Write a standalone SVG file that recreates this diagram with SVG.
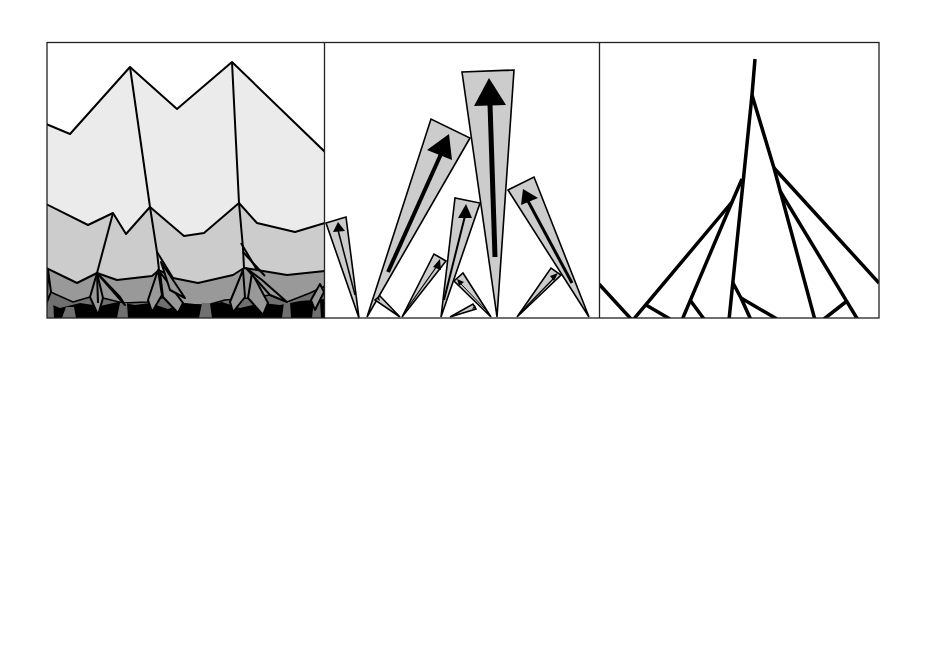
<svg xmlns="http://www.w3.org/2000/svg" width="926" height="655" viewBox="0 0 926 655">
<style>
.ln{fill:none;stroke:#000;stroke-width:2;stroke-linejoin:round}
.l1{fill:#ebebeb;stroke:#000;stroke-width:2;stroke-linejoin:round}
.l2{fill:#cccccc;stroke:#000;stroke-width:2;stroke-linejoin:round}
.l3{fill:#999999;stroke:#000;stroke-width:2;stroke-linejoin:round}
.l4{fill:#707070;stroke:#000;stroke-width:1.5;stroke-linejoin:round}
.bk{fill:#000}
.g{fill:#707070}
.w{fill:#cccccc;stroke:#000;stroke-width:1.6;stroke-linejoin:miter}
.ar{fill:#000}
.t{fill:none;stroke:#000;stroke-width:3.5;stroke-linecap:butt;stroke-linejoin:round}
</style>
<rect width="926" height="655" fill="#fff"/>
<defs>
<clipPath id="c1"><rect x="47" y="42" width="277.5" height="276"/></clipPath>
<clipPath id="c3"><rect x="600" y="42" width="279" height="276"/></clipPath>
</defs>
<g id="panel1" clip-path="url(#c1)">
<polygon class="l1" points="46,124 70,134 130,67 177,109 232,62 325,152 325,320 46,320"/>
<polygon class="l2" points="46,204 88,225 113,213 126,234 150,207 184,236 204,233 239,203 257,223 295,232 325,223 325,320 46,320"/>
<polygon class="l3" points="46,268 77,283 97,273 117,280 152,276 159,270 173,278 198,283 233,275 244,268 257,270 287,275 325,271 325,320 46,320"/>
<polygon class="l4" points="46,290 73,302 90,297 103,298 123,303 147,302 165,297 187,305 207,305 225,300 250,298 270,295 287,302 310,293 325,286 325,320 46,320"/>
<polygon class="bk" points="46,302 60,308 80,303 100,306 118,302 135,305 150,303 168,309 185,303 205,305 222,302 240,308 262,303 280,305 300,301 325,299 325,320 46,320"/>
<polygon class="g" points="62,318 66,307 74,307 76,318"/>
<polygon class="g" points="117,318 120,303 127,303 128,318"/>
<polygon class="g" points="199,318 202,303 210,303 212,318"/>
<polygon class="g" points="282,318 284,302 290,302 291,318"/>
<polygon class="g" points="312,318 314,300 320,300 321,318"/>
<polygon class="g" points="46,318 48,298 53,298 54,318"/>
<polygon class="l3" points="97,273 90,297 98,315 103,298"/>
<polyline class="ln" points="97,273 98,303"/>
<polygon class="l3" points="97,273 110,288 125,305 120,297"/>
<polygon class="l3" points="158,270 148,300 152,312 162,295"/>
<polygon class="l3" points="160,272 163,297 178,313 183,303"/>
<polygon class="l3" points="161,262 185,298 170,290"/>
<polygon class="l3" points="243,270 230,302 233,312 245,297"/>
<polygon class="l3" points="252,273 248,298 263,315 268,303"/>
<polygon class="l3" points="246,268 270,295 287,302 262,280"/>
<polygon class="l3" points="48,270 51,292 47,302"/>
<polygon class="l3" points="320,284 311,300 315,310 324,292"/>
<polyline class="ln" points="130,67 150,207 157,252 159,270"/>
<polyline class="ln" points="232,62 239,203 243,248 244,268"/>
<polyline class="ln" points="113,213 97,273"/>
<polyline class="ln" points="157,252 173,278"/>
<polyline class="ln" points="241,243 257,270"/>
<polyline class="ln" points="243,252 265,276"/>
</g>
<g id="panel2">
<polygon class="w" points="359,318 326,223 346,217"/>
<line x1="355" y1="295" x2="338" y2="230" stroke="#000" stroke-width="1.5"/>
<polygon class="ar" points="338,222 333,232 345,231"/>
<polygon class="w" points="367,317 431,119 470,138"/>
<line x1="388" y1="272" x2="441" y2="154" stroke="#000" stroke-width="4"/>
<polygon class="ar" points="449,134 427,150 452,160"/>
<polygon class="w" points="497,317 462,72 514,70"/>
<line x1="495" y1="257" x2="490" y2="104" stroke="#000" stroke-width="5"/>
<polygon class="ar" points="489,78 474,106 506,105"/>
<polygon class="w" points="441,317 455,198 480,203"/>
<line x1="444" y1="300" x2="465" y2="216" stroke="#000" stroke-width="2"/>
<polygon class="ar" points="466,204 458,218 472,218"/>
<polygon class="w" points="589,317 508,190 534,177"/>
<line x1="572" y1="283" x2="528" y2="201" stroke="#000" stroke-width="3"/>
<polygon class="ar" points="523,189 521,205 538,198"/>
<polygon class="w" points="402,317 434,254 446,261"/>
<line x1="406" y1="310" x2="437" y2="266" stroke="#000" stroke-width="1.2"/>
<polygon class="ar" points="440,259 433,267 441,270"/>
<polygon class="w" points="491,317 454,281 463,273"/>
<line x1="488" y1="312" x2="461" y2="284" stroke="#000" stroke-width="1"/>
<polygon class="ar" points="457,279 459,286 464,282"/>
<polygon class="w" points="517,317 551,268 561,275"/>
<line x1="519" y1="314" x2="555" y2="277" stroke="#000" stroke-width="1.2"/>
<polygon class="ar" points="558,273 550,276 554,281"/>
<polygon class="w" points="400,317 375,300 380,296"/>
<polygon class="w" points="450,317 473,304 476,309"/>
<polygon class="ar" points="377,299 380,301 379,297"/>
<polygon class="ar" points="475,305 472,309 476,308"/>
</g>
<g id="connectors" clip-path="url(#c3)">
<polyline class="t" points="755,59 752,95 729,320"/>
<polyline class="t" points="752,95 774,168 815,320"/>
<polyline class="t" points="774,168 879,283"/>
<polyline class="t" points="780,191 858,320"/>
<polyline class="t" points="742,179 732,202 633,320"/>
<polyline class="t" points="732,202 682,320"/>
<polyline class="t" points="598,283 632,320"/>
<polyline class="t" points="646,305 670,319"/>
<polyline class="t" points="690,300 704,319"/>
<polyline class="t" points="733,283 741,298 751,320"/>
<polyline class="t" points="741,298 777,319"/>
<polyline class="t" points="847,301 824,319"/>
</g>
<g id="frame" fill="none" stroke="#222" stroke-width="1.3">
<rect x="47" y="42.5" width="832" height="275.5"/>
<line x1="324.5" y1="42" x2="324.5" y2="318"/>
<line x1="599.5" y1="42" x2="599.5" y2="318"/>
</g>
</svg>
